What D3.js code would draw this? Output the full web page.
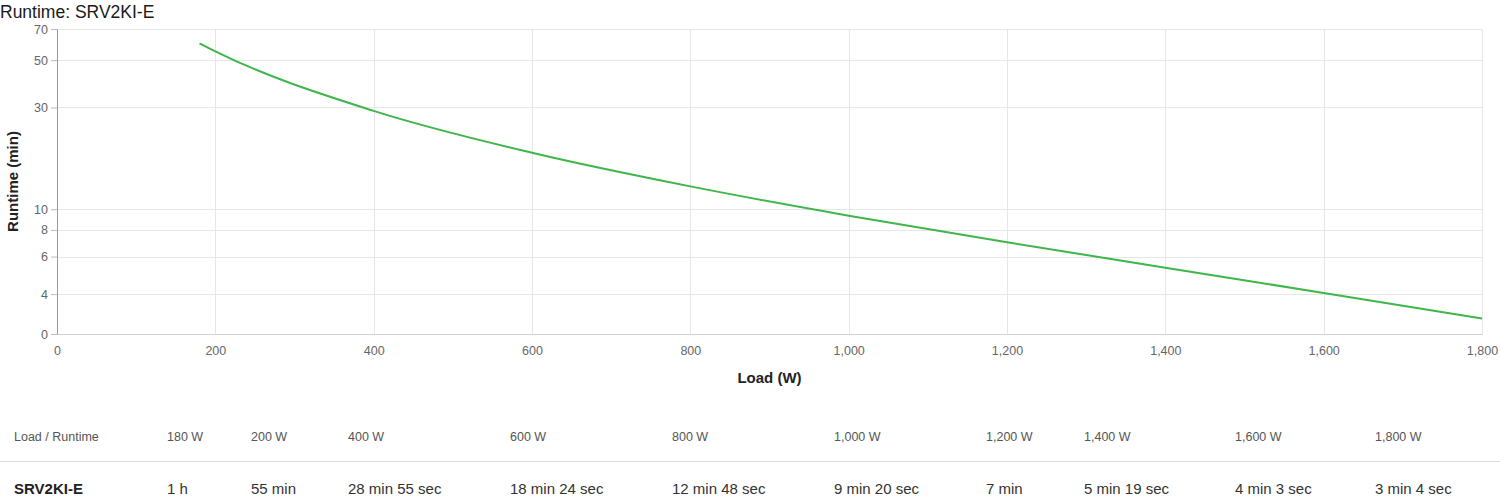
<!DOCTYPE html>
<html lang="en">
<head>
<meta charset="utf-8">
<title>Runtime: SRV2KI-E</title>
<script src="https://cdn.jsdelivr.net/npm/d3@7"></script>
<style>
  body { margin: 0; background: #fff; font-family: "Liberation Sans", Arial, sans-serif; }
  .grid line { stroke: #e6e6e6; stroke-width: 1; }
  .tick text { fill: #666; font-size: 12px; }
  .axisTitle { font-size: 15px; font-weight: bold; fill: #222; }
  .hdr { font-size: 12.5px; fill: #555; }
  .val { font-size: 15px; fill: #333; }
</style>
</head>
<body>
<svg id="chart" width="1500" height="496"></svg>
<script>
// data
var model = "SRV2KI-E";
var loads = [180, 200, 400, 600, 800, 1000, 1200, 1400, 1600, 1800];
var runtimeMin = [60, 55, 28.92, 18.4, 12.8, 9.33, 7, 5.32, 4.05, 3.07];
var runtimeText = ["1 h", "55 min", "28 min 55 sec", "18 min 24 sec", "12 min 48 sec",
  "9 min 20 sec", "7 min", "5 min 19 sec", "4 min 3 sec", "3 min 4 sec"];
var xTicks = [0, 200, 400, 600, 800, 1000, 1200, 1400, 1600, 1800];
// bottom of the log axis is labelled "0" in the original
var yTicks = [2.6, 4, 6, 8, 10, 30, 50, 70];
var yTickLabels = ["0", "4", "6", "8", "10", "30", "50", "70"];

// table column widths (layout only)
var colWidths = [153, 84, 97, 162, 162, 162, 152, 98, 151, 140, 125];

var svg = d3.select("#chart"),
  margin = {top: 29, right: 18, bottom: 162, left: 57},
  width = +svg.attr("width") - margin.left - margin.right,
  height = +svg.attr("height") - margin.top - margin.bottom;

var x = d3.scaleLinear().domain([0, 1800]).range([0, width]);
var y = d3.scaleLog().domain([2.6, 70]).range([height, 0]);

svg.append("text")
  .attr("x", 0).attr("y", 18)
  .style("font-size", "17.5px").style("fill", "#1a1a1a")
  .text("Runtime: " + model);

var g = svg.append("g")
  .attr("transform", "translate(" + margin.left + "," + margin.top + ")");

// horizontal grid
g.append("g").attr("class", "grid")
  .selectAll("line").data(yTicks).enter().append("line")
  .attr("x1", 0).attr("x2", width)
  .attr("y1", function(d) { return Math.round(y(d)) + 0.5; })
  .attr("y2", function(d) { return Math.round(y(d)) + 0.5; });

// vertical grid
g.append("g").attr("class", "grid")
  .selectAll("line").data(xTicks.slice(1)).enter().append("line")
  .attr("y1", 0).attr("y2", height)
  .attr("x1", function(d) { return Math.round(x(d)) + 0.5; })
  .attr("x2", function(d) { return Math.round(x(d)) + 0.5; });

// x axis
var xAxis = g.append("g")
  .attr("transform", "translate(0," + height + ")")
  .call(d3.axisBottom(x).tickValues(xTicks).tickSize(0).tickPadding(12).tickFormat(d3.format(",")));
xAxis.select(".domain").attr("stroke", "#d0d0d0");
xAxis.selectAll(".tick text").style("font-size", "12.5px");

// y axis
var yAxis = g.append("g")
  .call(d3.axisLeft(y).tickValues(yTicks).tickSize(6).tickSizeOuter(0).tickPadding(3)
    .tickFormat(function(d, i) { return yTickLabels[i]; }));
yAxis.select(".domain").attr("stroke", "#999");
yAxis.selectAll(".tick line").attr("stroke", "#bbb");
yAxis.selectAll(".tick text").style("font-size", "12.5px");

// axis titles
svg.append("text")
  .attr("class", "axisTitle")
  .attr("x", margin.left + width / 2).attr("y", 383)
  .attr("text-anchor", "middle")
  .text("Load (W)");

svg.append("text")
  .attr("class", "axisTitle")
  .attr("transform", "translate(18," + (margin.top + height / 2) + ") rotate(-90)")
  .attr("text-anchor", "middle")
  .text("Runtime (min)");

// runtime line
var pts = loads.map(function(d, i) { return {load: d, rt: runtimeMin[i]}; });
var line = d3.line()
  .x(function(d) { return x(d.load); })
  .y(function(d) { return y(d.rt); })
  .curve(d3.curveMonotoneX);

g.append("path")
  .datum(pts)
  .attr("fill", "none")
  .attr("stroke", "#3fb54a")
  .attr("stroke-width", 2)
  .attr("d", line);

// table below the chart
var colX = [];
var acc = 14;
colWidths.forEach(function(w) { colX.push(acc); acc += w; });

var hdrs = ["Load / Runtime"].concat(loads.map(function(d) { return d3.format(",")(d) + " W"; }));
var vals = [model].concat(runtimeText);

svg.append("g").selectAll("text").data(hdrs).enter().append("text")
  .attr("class", "hdr")
  .attr("x", function(d, i) { return colX[i]; })
  .attr("y", 441)
  .text(function(d) { return d; });

svg.append("line")
  .attr("x1", 0).attr("x2", 1500)
  .attr("y1", 461.5).attr("y2", 461.5)
  .attr("stroke", "#dcdcdc");

svg.append("g").selectAll("text").data(vals).enter().append("text")
  .attr("class", "val")
  .attr("x", function(d, i) { return colX[i]; })
  .attr("y", 494)
  .style("font-weight", function(d, i) { return i === 0 ? "bold" : "normal"; })
  .style("fill", function(d, i) { return i === 0 ? "#222" : "#333"; })
  .text(function(d) { return d; });
</script>
</body>
</html>
